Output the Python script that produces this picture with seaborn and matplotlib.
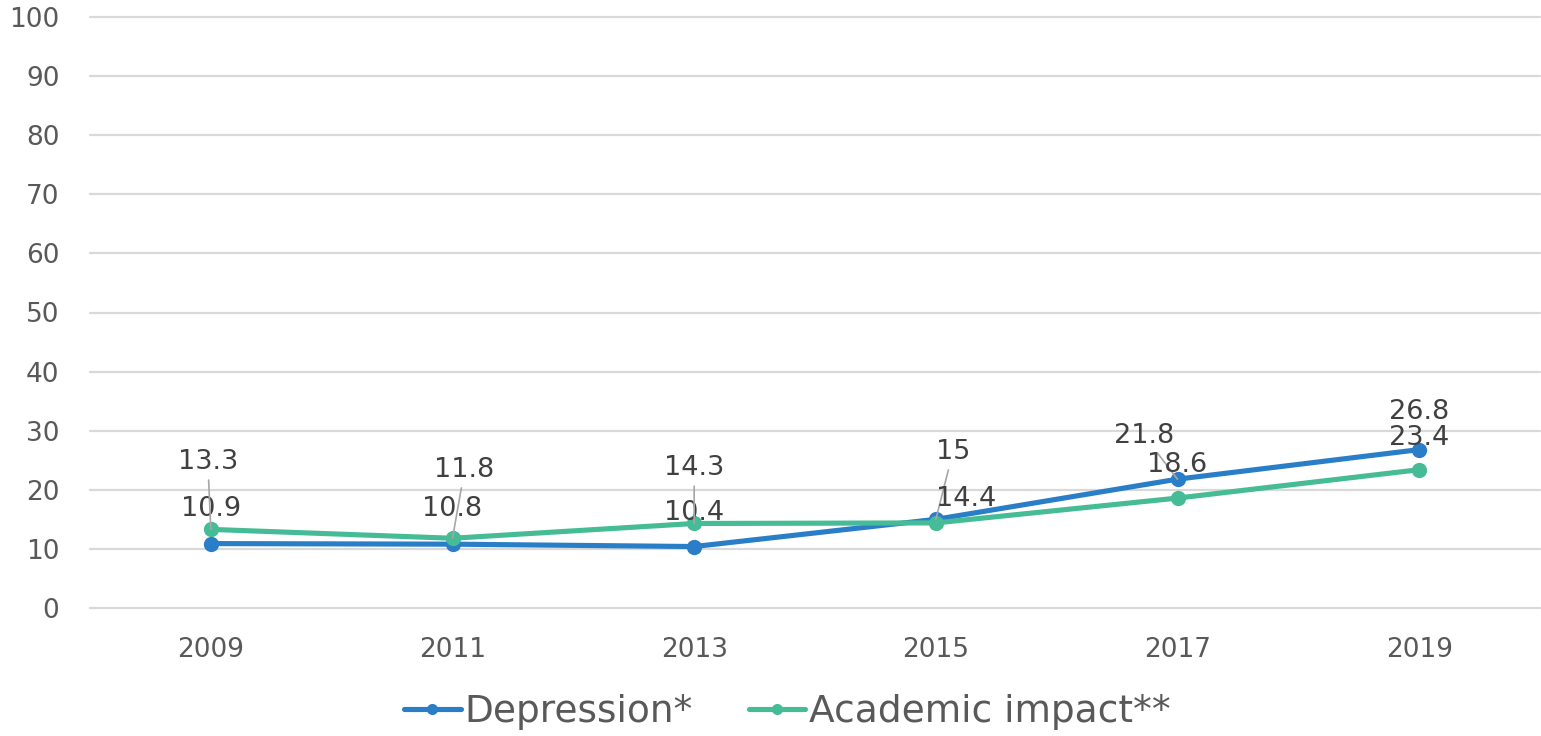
import matplotlib
matplotlib.use("Agg")
import matplotlib.pyplot as plt
import seaborn as sns
import pandas as pd
from matplotlib.lines import Line2D

years = ["2009", "2011", "2013", "2015", "2017", "2019"]
depression = [10.9, 10.8, 10.4, 15.0, 21.8, 26.8]
academic = [13.3, 11.8, 14.3, 14.4, 18.6, 23.4]
series_names = ["Depression*", "Academic impact**"]
yticks = [0, 10, 20, 30, 40, 50, 60, 70, 80, 90, 100]

colors = {"Depression*": "#2A7EC8", "Academic impact**": "#45BC95"}

df = pd.DataFrame({
    "pos": list(range(len(years))) * 2,
    "value": depression + academic,
    "series": [series_names[0]] * len(years) + [series_names[1]] * len(years),
})

sns.set_theme(style="white")
plt.rcParams["font.family"] = ["DejaVu Sans"]

fig = plt.figure(figsize=(15.41, 7.36), dpi=100)
ax = fig.add_axes([90 / 1541, 1 - 608 / 736, 1450 / 1541, (608 - 17) / 736])

sns.lineplot(data=df, x="pos", y="value", hue="series", palette=colors,
             marker="o", markersize=11, markeredgewidth=0, linewidth=3.7,
             ax=ax, legend=False, sort=False)

ax.set_xlim(-0.5, len(years) - 0.5)
ax.set_ylim(0, 100)
ax.set_yticks(yticks)
ax.set_xticks(range(len(years)))
ax.set_xticklabels(years)
ax.set_xlabel("")
ax.set_ylabel("")
ax.grid(axis="y", color="#D9D9D9", linewidth=1.6)
ax.grid(axis="x", visible=False)
for gl in ax.get_ygridlines():
    gl.set_clip_on(False)
for s in ax.spines.values():
    s.set_visible(False)
ax.tick_params(axis="both", length=0, labelsize=19, labelcolor="#595959")
ax.tick_params(axis="y", pad=22)
ax.tick_params(axis="x", pad=21)

# label offsets in pixels (dx, dy) from data point to text center
dep_off = [(0, 35), (0, 35), (0, 34), (17, 67), (-33, 43), (0, 38)]
aca_off = [(-3, 67), (12, 68), (0, 55), (30, 24), (0, 33), (0, 32)]
dep_lead = [False, False, False, True, True, False]
aca_lead = [True, True, True, False, False, False]

def label(vals, offs, leads):
    for i, (v, (dx, dy), ld) in enumerate(zip(vals, offs, leads)):
        txt = f"{v:g}"
        ax.annotate(txt, xy=(i, v), xytext=(dx, dy), textcoords="offset pixels",
                    ha="center", va="center", fontsize=19.5, color="#404040",
                    arrowprops=dict(arrowstyle="-", color="#A6A6A6", lw=1.2,
                                    shrinkA=1, shrinkB=0) if ld else None,
                    zorder=5)

label(depression, dep_off, dep_lead)
label(academic, aca_off, aca_lead)

handles = [Line2D([0], [0], color=colors[n], lw=3.7, marker="o", markersize=8,
                  markeredgewidth=0) for n in series_names]
fig.legend(handles, series_names, loc="center",
           bbox_to_anchor=(0.5 + 17 / 1541, 1 - 712 / 736),
           ncol=2, frameon=False, fontsize=27, handlelength=1.5, handletextpad=0.1,
           columnspacing=1.5, labelcolor="#595959")

fig.savefig("out.png", dpi=100)
